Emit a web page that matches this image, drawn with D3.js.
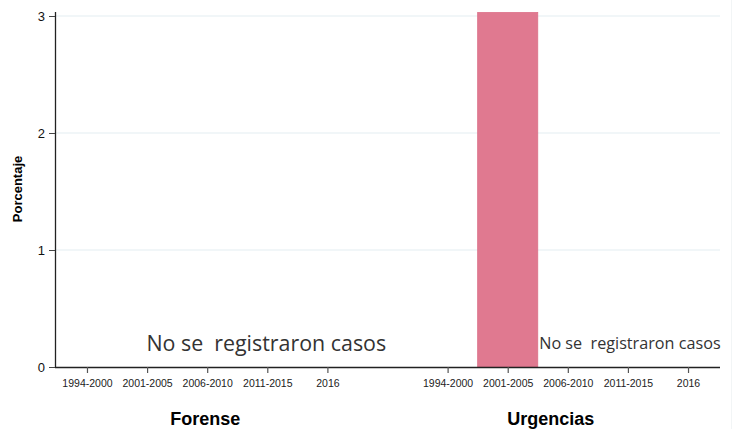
<!DOCTYPE html>
<html>
<head>
<meta charset="utf-8">
<script src="https://cdn.jsdelivr.net/npm/d3@7"></script>
<style>
  body { margin: 0; background: #fff; }
  svg text { font-family: Arial, "Liberation Sans", sans-serif; }
  .nota { font-family: "Open Sans", sans-serif; fill: #333; white-space: pre; }
</style>
</head>
<body>
<div id="chart"></div>
<script>
// periodos y paneles
const periodos = ["1994-2000", "2001-2005", "2006-2010", "2011-2015", "2016"];
const paneles = ["Forense", "Urgencias"];
// porcentaje por periodo (0 = no se registraron casos)
const forense = [0, 0, 0, 0, 0];
const urgencias = [0, 3.03, 0, 0, 0];
const yTicks = [0, 1, 2, 3];

const width = 740, height = 429;
const margin = {top: 16, right: 20, bottom: 62, left: 55};

const svg = d3.select("#chart").append("svg")
  .attr("width", width)
  .attr("height", height);

// one slot per period, plus an empty slot between the two panels
const slots = [];
paneles.forEach(function(p, i) {
  periodos.forEach(function(per) { slots.push(p + "|" + per); });
  if (i < paneles.length - 1) slots.push("gap");
});

const x = d3.scalePoint()
  .domain(slots)
  .range([margin.left, width - margin.right])
  .padding(0.532);

const y = d3.scaleLinear()
  .domain([0, 3])
  .range([height - margin.bottom, margin.top]);

// gridlines
svg.append("g")
  .selectAll("line")
  .data(yTicks.slice(1))
  .enter()
  .append("line")
  .attr("x1", margin.left)
  .attr("x2", width - margin.right)
  .attr("y1", function(d) { return y(d); })
  .attr("y2", function(d) { return y(d); })
  .attr("stroke", "#e3edf2")
  .attr("stroke-width", 1.2);

// faint right border
svg.append("line")
  .attr("x1", width - 8.5).attr("x2", width - 8.5)
  .attr("y1", 0).attr("y2", height)
  .attr("stroke", "#f2f5f6");

// bars
const rows = [];
periodos.forEach(function(per, i) {
  rows.push({key: "Forense|" + per, value: forense[i]});
  rows.push({key: "Urgencias|" + per, value: urgencias[i]});
});

svg.append("g")
  .selectAll("rect")
  .data(rows.filter(function(d) { return d.value > 0; }))
  .enter()
  .append("rect")
  .attr("x", function(d) { return x(d.key) - x.step() / 2; })
  .attr("width", x.step())
  .attr("y", function(d) { return y(d.value); })
  .attr("height", function(d) { return y(0) - y(d.value); })
  .attr("fill", "#e07990")
  .attr("stroke", "#dc7189")
  .attr("stroke-width", 0.8);

// y axis
const yAxis = svg.append("g")
  .attr("transform", "translate(" + margin.left + ",0)")
  .call(d3.axisLeft(y).tickValues(yTicks).tickFormat(d3.format("d")).tickSize(6).tickPadding(4));
yAxis.select(".domain").attr("stroke", "#222").attr("stroke-width", 1.3)
  .attr("d", "M0.5," + (margin.top - 4) + "V" + y(0));
yAxis.selectAll(".tick line").attr("stroke", "#444");
yAxis.selectAll("text").attr("font-size", 13).attr("fill", "#111");

// x axis
const xAxis = svg.append("g")
  .attr("transform", "translate(0," + y(0) + ")")
  .call(d3.axisBottom(x).tickSize(6).tickPadding(7)
    .tickValues(slots.filter(function(s) { return s !== "gap"; }))
    .tickFormat(function(d) { return d.split("|")[1]; }));
xAxis.select(".domain").attr("stroke", "#222").attr("stroke-width", 1.3)
  .attr("d", "M" + margin.left + ",0.5H" + (width - margin.right));
xAxis.selectAll(".tick line").attr("stroke", "#555").attr("stroke-width", 1.2);
xAxis.selectAll("text").attr("font-size", 10.5).attr("fill", "#222");

// y title
svg.append("text")
  .attr("transform", "translate(22," + 189 + ") rotate(-90)")
  .attr("text-anchor", "middle")
  .attr("font-size", 13)
  .attr("font-weight", "bold")
  .text("Porcentaje");

// panel titles
svg.append("text")
  .attr("x", x("Forense|2006-2010") - 2)
  .attr("y", 425)
  .attr("text-anchor", "middle")
  .attr("font-size", 18)
  .attr("font-weight", "bold")
  .text(paneles[0]);

svg.append("text")
  .attr("x", x("Urgencias|2006-2010") - 17)
  .attr("y", 425)
  .attr("text-anchor", "middle")
  .attr("font-size", 18)
  .attr("font-weight", "bold")
  .text(paneles[1]);

// notes
svg.append("text")
  .attr("class", "nota")
  .attr("x", x("Forense|2011-2015") - 1)
  .attr("y", 351)
  .attr("text-anchor", "middle")
  .attr("font-size", 21.4)
  .text("No se  registraron casos");

svg.append("text")
  .attr("class", "nota")
  .attr("x", x("Urgencias|2011-2015") + 2)
  .attr("y", 349)
  .attr("text-anchor", "middle")
  .attr("font-size", 16.2)
  .text("No se  registraron casos");
</script>
</body>
</html>
